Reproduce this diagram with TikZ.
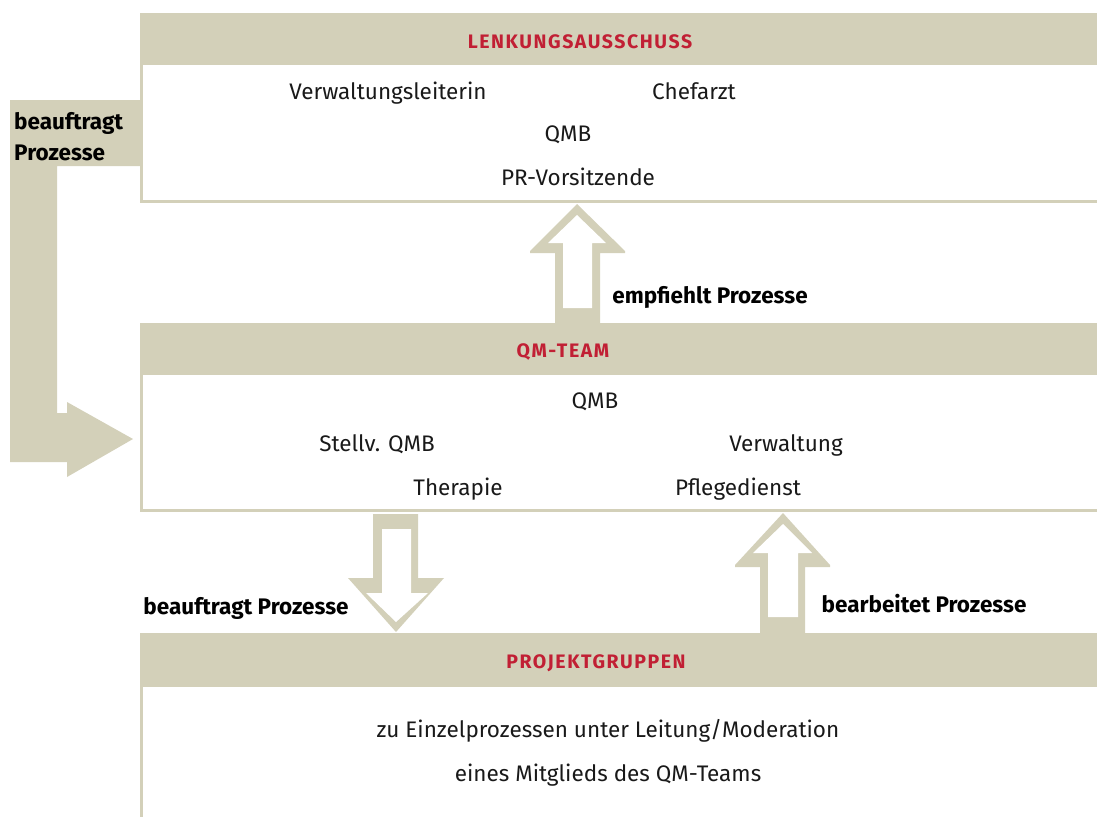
\documentclass[tikz,border=0pt]{standalone}
\usepackage{fontspec}
\setmainfont{Fira Sans}
\definecolor{tanc}{RGB}{211,208,185}
\definecolor{hdr}{RGB}{193,31,52}
\begin{document}
\begin{tikzpicture}[x=1pt,y=-1pt,
  band/.style={fill=tanc, draw=none},
  txt/.style={font=\fontsize{22.5}{27}\selectfont, text=black!90, inner sep=0, anchor=base},
  head/.style={font=\bfseries\fontsize{19.5}{23}\selectfont\addfontfeature{LetterSpace=8}, text=hdr, inner sep=0},
  lbl/.style={font=\bfseries\fontsize{22.5}{27}\selectfont, inner sep=0, anchor=base}]
\useasboundingbox (0,0) rectangle (1097,817);
% boxes
\fill[band] (140,13) rectangle (1097,65);
\fill[band] (140,65) rectangle (143,203);
\fill[band] (140,200) rectangle (1097,203);
\fill[band] (140,323) rectangle (1097,375);
\fill[band] (140,375) rectangle (143,512);
\fill[band] (140,509) rectangle (1097,512);
\fill[band] (140,633) rectangle (1097,687);
\fill[band] (140,687) rectangle (143,817);
% L arrow
\fill[band] (10,100) -- (140,100) -- (140,166) -- (57,166) -- (57,413) -- (67,413) -- (67,402) -- (133,439) -- (67,477) -- (67,462) -- (10,462) -- cycle;
% up arrow 1
\fill[band] (577,204) -- (625,251) -- (625,253) -- (600,253) -- (600,323) -- (555,323) -- (555,253) -- (530,253) -- (530,251) -- cycle;
\fill[white] (577,215) -- (606,243) -- (592,243) -- (592,308) -- (563,308) -- (563,243) -- (548,243) -- cycle;
% down arrow
\fill[band] (373,514) -- (418,514) -- (418,578) -- (444,578) -- (396,632) -- (348,578) -- (373,578) -- cycle;
\fill[white] (382,529) -- (411,529) -- (411,593) -- (428,593) -- (396,622) -- (366,593) -- (382,593) -- cycle;
% up arrow 2
\fill[band] (783,513) -- (830,565) -- (830,567) -- (805,567) -- (805,633) -- (760,633) -- (760,567) -- (735,567) -- (735,565) -- cycle;
\fill[white] (783,524) -- (812,553) -- (798,553) -- (798,617) -- (768,617) -- (768,553) -- (753,553) -- cycle;
% headers
\node[head] (h1) at (580,42) {LENKUNGSAUSSCHUSS};
\node[head] (h2) at (563,352) {QM-TEAM};
\node[head] (h3) at (596,663) {PROJEKTGRUPPEN};
% texts
\node[txt] (a1) at (388,99) {Verwaltungsleiterin};
\node[txt] (a2) at (694,99) {Chefarzt};
\node[txt] (a3) at (568,141) {QMB};
\node[txt] (a4) at (578,185) {PR-Vorsitzende};
\node[txt] (b1) at (595,408) {QMB};
\node[txt] (b2) at (377,451) {Stellv. QMB};
\node[txt] (b3) at (786,451) {Verwaltung};
\node[txt] (b4) at (458,495) {Therapie};
\node[txt] (b5) at (738,495) {Pflegedienst};
\node[txt] (c1) at (608,737) {zu Einzelprozessen unter Leitung/Moderation};
\node[txt] (c2) at (608,781) {eines Mitglieds des QM-Teams};
% labels
\node[lbl,anchor=base west] (l1) at (14,129) {beauftragt};
\node[lbl,anchor=base west] (l2) at (14,160) {Prozesse};
\node[lbl] (l3) at (710,303) {empfiehlt Prozesse};
\node[lbl] (l4) at (246,614) {beauftragt Prozesse};
\node[lbl] (l5) at (924,612) {bearbeitet Prozesse};
\end{tikzpicture}
\end{document}
